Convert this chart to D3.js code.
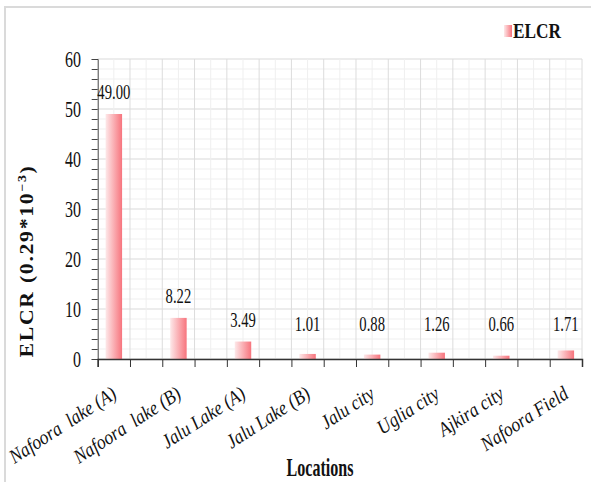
<!DOCTYPE html>
<html>
<head>
<meta charset="utf-8">
<script src="https://cdn.jsdelivr.net/npm/d3@7"></script>
<style>
  body { margin: 0; background: #fff; }
  svg { display: block; font-family: "Liberation Serif", "DejaVu Serif", serif; }
</style>
</head>
<body>
<div id="bar-chart"></div>
<script>
// Data
const locations = ["Nafoora  lake (A)", "Nafoora  lake (B)", "Jalu Lake (A)", "Jalu Lake (B)",
                   "Jalu city", "Uglia city", "Ajkira city", "Nafoora Field"];
const elcr = [49.00, 8.22, 3.49, 1.01, 0.88, 1.26, 0.66, 1.71];
const yTicks = [0, 10, 20, 30, 40, 50, 60];

// squeeze a text node so its advance width matches the (condensed) reference
const squeeze = (node, target) => {
  const len = node.getComputedTextLength();
  return len > 0 ? target / len : 1;
};

const drawBarChart = () => {

  /*******************************/
  /*    Declare the constants    */
  /*******************************/
  const width = 591;
  const height = 482;
  const plot = {left: 97.7, right: 582, top: 59, bottom: 359};
  const textColor = "#111";

  const svg = d3.select("#bar-chart")
    .append("svg")
      .attr("width", width)
      .attr("height", height);

  // gradient used for the bars and the legend key
  const grad = svg.append("defs")
    .append("linearGradient")
      .attr("id", "barFill")
      .attr("x1", "0%").attr("x2", "100%")
      .attr("y1", "0%").attr("y2", "0%");
  grad.append("stop").attr("offset", "0%").attr("stop-color", "#fde8e9");
  grad.append("stop").attr("offset", "100%").attr("stop-color", "#f7747d");

  // outer frame (only top and left visible)
  svg.append("rect")
    .attr("x", 5).attr("y", 7)
    .attr("width", 700).attr("height", 600)
    .attr("fill", "none")
    .attr("stroke", "#dadada")
    .attr("stroke-width", 2);

  /****************************/
  /*    Declare the scales    */
  /****************************/
  // the x axis is split in half-category slots (clustered chart, cropped on the right)
  const xScale = d3.scaleLinear()
    .domain([0, 15])
    .range([plot.left, plot.right]);
  const slot = xScale(1) - xScale(0);
  const barX = i => xScale(2 * i + 0.5);

  const yScale = d3.scaleLinear()
    .domain([0, 60])
    .range([plot.bottom, plot.top]);

  /***************************/
  /*        Gridlines        */
  /***************************/
  const grid = svg.append("g");
  grid.selectAll(".hline")
    .data(d3.range(0, 61, 2))
    .join("line")
      .attr("x1", plot.left).attr("x2", plot.right)
      .attr("y1", d => yScale(d)).attr("y2", d => yScale(d))
      .attr("stroke", d => d % 10 === 0 ? "#d9d9d9" : "#efefef");
  grid.selectAll(".vline")
    .data(d3.range(0.5, 15.1, 0.5))
    .join("line")
      .attr("x1", d => xScale(d)).attr("x2", d => xScale(d))
      .attr("y1", plot.top).attr("y2", plot.bottom)
      .attr("stroke", d => d % 1 === 0 ? "#dcdcdc" : "#efefef");

  /***************************/
  /*         Bars            */
  /***************************/
  const barW = slot * 0.51;
  svg.selectAll(".bar")
    .data(elcr)
    .join("rect")
      .attr("class", "bar")
      .attr("x", (d, i) => barX(i) - barW / 2)
      .attr("y", d => yScale(d))
      .attr("width", barW)
      .attr("height", d => yScale(0) - yScale(d))
      .attr("fill", "url(#barFill)");

  /***************************/
  /*     Append the axes     */
  /***************************/
  const leftAxis = d3.axisLeft(yScale)
    .tickValues(d3.range(0, 61, 2))
    .tickSize(6)
    .tickFormat("");
  const gy = svg.append("g")
    .attr("transform", `translate(${plot.left}, 0)`)
    .call(leftAxis);
  gy.select(".domain").attr("stroke", "#444");
  gy.selectAll(".tick line").attr("stroke", "#444");

  const bottomAxis = d3.axisBottom(xScale)
    .ticks(15)
    .tickSize(8)
    .tickFormat("");
  const gx = svg.append("g")
    .attr("transform", `translate(0, ${plot.bottom})`)
    .call(bottomAxis);
  gx.select(".domain").attr("stroke", "#333").attr("stroke-width", 1.5);
  gx.selectAll(".tick line").attr("stroke", "#333");

  // y tick labels
  const yLabels = svg.selectAll(".ylab")
    .data(yTicks)
    .join("text")
      .attr("class", "ylab")
      .attr("text-anchor", "end")
      .attr("dominant-baseline", "central")
      .attr("font-size", 24)
      .attr("fill", textColor)
      .text(d => d);
  const sY = squeeze(yLabels.filter(d => d === 60).node(), 16);
  yLabels.attr("transform", d => `translate(81, ${yScale(d)}) scale(${sY}, 1)`);

  /************************/
  /*      Add labels      */
  /************************/
  // value labels
  const vLabels = svg.selectAll(".vlab")
    .data(elcr)
    .join("text")
      .attr("class", "vlab")
      .attr("text-anchor", "middle")
      .attr("font-size", 20)
      .attr("fill", textColor)
      .text(d => d3.format(".2f")(d));
  const sV = squeeze(vLabels.filter(d => d === 49).node(), 33);
  vLabels.attr("transform", d => `translate(${barX(elcr.indexOf(d))}, ${Math.min(yScale(d) - 15, 331)}) scale(${sV}, 1)`);

  // category labels
  const cLabels = svg.selectAll(".clab")
    .data(locations)
    .join("text")
      .attr("class", "clab")
      .attr("text-anchor", "end")
      .attr("font-size", 20)
      .attr("font-style", "italic")
      .attr("fill", textColor)
      .style("white-space", "pre")
      .text(d => d);
  const sC = squeeze(cLabels.filter(d => d === "Nafoora Field").node(), 100);
  cLabels.attr("transform", (d, i) => `translate(${barX(i) + 4}, 397) rotate(-33) scale(${sC}, 1)`);

  // axis titles
  const xTitle = svg.append("text")
    .attr("text-anchor", "middle")
    .attr("font-size", 25)
    .attr("font-weight", "bold")
    .attr("fill", textColor)
    .text("Locations");
  xTitle.attr("transform", `translate(320, 476) scale(${squeeze(xTitle.node(), 67)}, 1)`);

  const yTitle = svg.append("text")
    .attr("text-anchor", "middle")
    .attr("font-size", 19)
    .attr("font-weight", "bold")
    .attr("letter-spacing", 1.5)
    .attr("fill", textColor);
  yTitle.append("tspan").text("ELCR (0.29*10");
  yTitle.append("tspan")
    .attr("baseline-shift", "super")
    .attr("font-size", 12)
    .text("−3");
  yTitle.append("tspan").text(")");
  yTitle.attr("transform", `translate(33, 261) rotate(-90) scale(${squeeze(yTitle.node(), 193)}, 1)`);

  // legend
  svg.append("rect")
    .attr("x", 504).attr("y", 25)
    .attr("width", 8).attr("height", 12)
    .attr("fill", "url(#barFill)");
  const legText = svg.append("text")
    .attr("font-size", 21)
    .attr("font-weight", "bold")
    .attr("fill", textColor)
    .text("ELCR");
  legText.attr("transform", `translate(513, 38) scale(${squeeze(legText.node(), 48)}, 1)`);
};

drawBarChart();
</script>
</body>
</html>
